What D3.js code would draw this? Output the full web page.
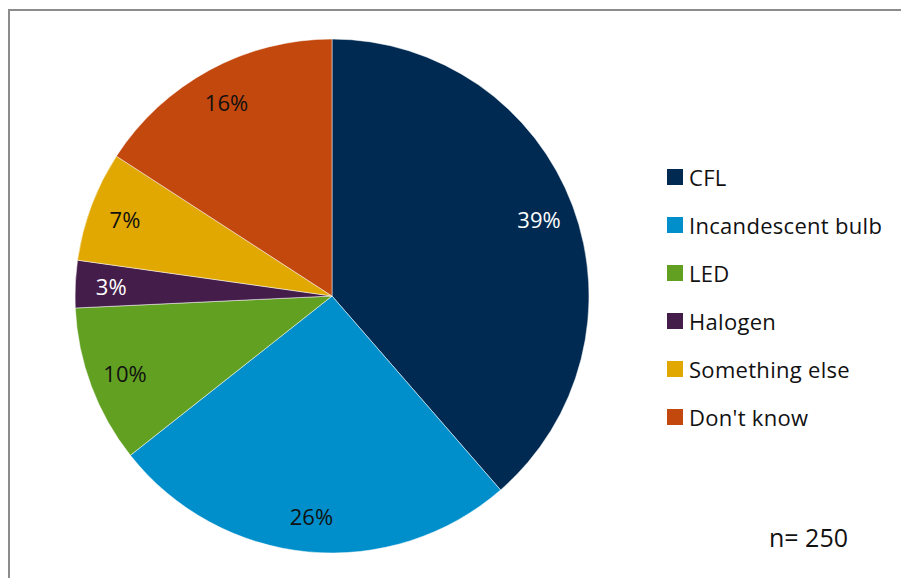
<!DOCTYPE html>
<html><head><meta charset="utf-8">
<script src="https://cdn.jsdelivr.net/npm/d3@7"></script>
<style>body{margin:0;background:#fff;}svg{display:block;}</style>
</head><body>
<svg id="chart" width="901" height="578"></svg>
<script>
const categories = ["CFL", "Incandescent bulb", "LED", "Halogen", "Something else", "Don't know"];
const values = [39, 26, 10, 3, 7, 16];
const colors = ["#002a52", "#008fca", "#62a022", "#451d4b", "#e0a800", "#c2480e"];
const labelColors = ["#ffffff", "#111111", "#111111", "#ffffff", "#111111", "#111111"];
const note = "n= 250";

const svg = d3.select("#chart");
const font = "'Open Sans', 'Liberation Sans', Arial, sans-serif";

// frame
svg.append("path").attr("d", "M9,578 V10 H901").attr("fill", "none").attr("stroke", "#8c8c8c").attr("stroke-width", 2);

const cx = 332, cy = 296, R = 257;
const data = categories.map((c, i) => ({cat: c, value: values[i], i}));
const pie = d3.pie().value(d => d.value).sort(null);
const arcs = pie(data);
const arc = d3.arc().innerRadius(0).outerRadius(R);
const labelArc = d3.arc().innerRadius(221).outerRadius(221);

const g = svg.append("g").attr("transform", `translate(${cx},${cy})`);
g.selectAll("path.slice").data(arcs).join("path")
  .attr("class", "slice")
  .attr("d", arc)
  .attr("fill", d => colors[d.data.i])
  .attr("stroke", "#ffffff").attr("stroke-width", 0.5);

g.selectAll("text.lbl").data(arcs).join("text")
  .attr("class", "lbl")
  .attr("transform", d => `translate(${labelArc.centroid(d)})`)
  .attr("text-anchor", "middle")
  .attr("dominant-baseline", "central")
  .attr("font-family", font)
  .attr("font-size", 22)
  .attr("fill", d => labelColors[d.data.i])
  .text(d => d.data.value + "%");

// legend
const leg = svg.append("g").attr("transform", "translate(667,177)");
const items = leg.selectAll("g").data(data).join("g")
  .attr("transform", (d, i) => `translate(0,${i * 48})`);
items.append("rect").attr("x", 0).attr("y", -8).attr("width", 16).attr("height", 16)
  .attr("fill", d => colors[d.i]);
items.append("text").attr("x", 22).attr("y", 0)
  .attr("dominant-baseline", "central")
  .attr("font-family", font).attr("font-size", 22).attr("letter-spacing", 0.3).attr("fill", "#111")
  .text(d => d.cat);

svg.append("text").attr("x", 769).attr("y", 537)
  .attr("dominant-baseline", "central")
  .attr("font-family", font).attr("font-size", 25).attr("fill", "#111")
  .text(note);
</script>
</body></html>
